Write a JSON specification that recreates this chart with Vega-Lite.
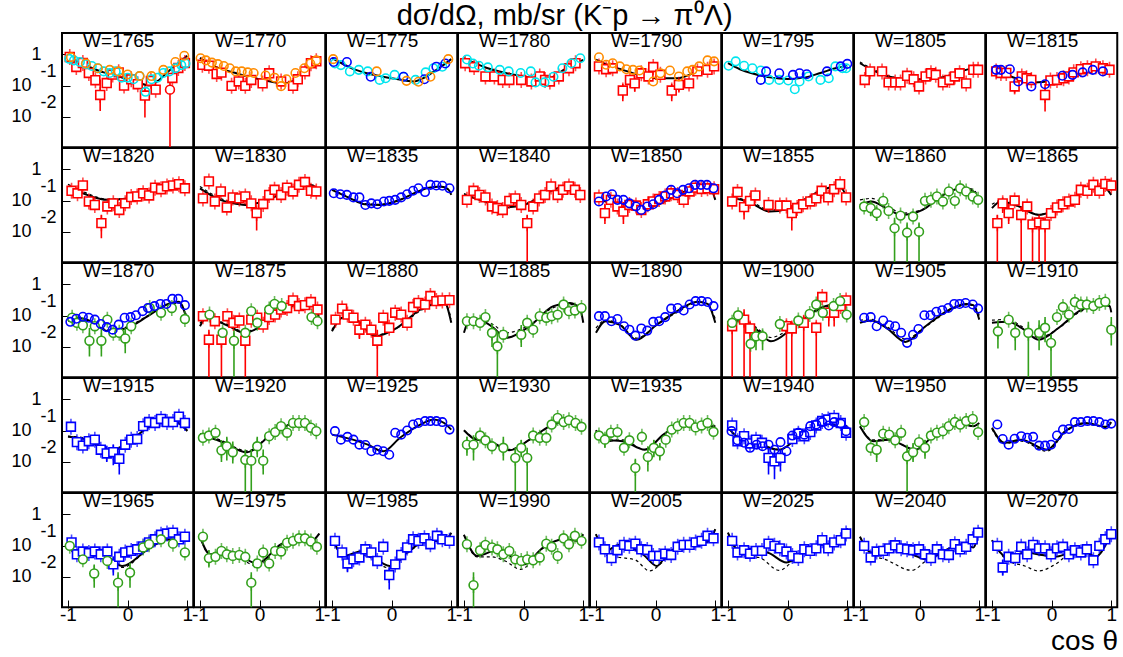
{
"$schema":"https://vega.github.io/schema/vega-lite/v6.json",
"background":"white",
"padding":{"left":10,"top":2,"right":0,"bottom":0},
"bounds":"flush",
"title":{"text":"dσ/dΩ, mb/sr (K⁻p → π⁰Λ)","fontSize":29,"font":"Liberation Sans","fontWeight":"normal","color":"black","anchor":"middle","offset":0},
"data":{"values":[
{"k":"l","s":"s","W":1765,"x":[-1,-0.8,-0.6,-0.4,-0.2,0,0.2,0.36,0.5,0.7,0.85,1],"y":[0.851,0.525,0.363,0.263,0.209,0.155,0.12,0.1,0.138,0.302,0.525,0.891]},
{"k":"p","s":"c","W":1765,"x":[-0.98,-0.9,-0.8,-0.7,-0.6,-0.5,-0.4,-0.3,-0.2,-0.1,0,0.1,0.2,0.3,0.4,0.5,0.6,0.7,0.8,0.9,0.97],"y":[0.708,0.631,0.562,0.479,0.417,0.355,0.282,0.251,0.282,0.178,0.178,0.158,0.2,0.0631,0.158,0.178,0.251,0.282,0.355,0.447,0.501]},
{"k":"p","s":"o","W":1765,"x":[-0.95,-0.7,-0.5,-0.3,-0.15,0,0.2,0.4,0.6,0.8,0.95],"y":[0.794,0.501,0.355,0.316,0.282,0.224,0.2,0.2,0.316,0.562,0.891]},
{"k":"p","s":"r","W":1765,"x":[-0.97,-0.86,-0.75,-0.65,-0.54,-0.46,-0.35,-0.25,-0.15,-0.06,0.06,0.17,0.29,0.39,0.47,0.75,0.85,0.96],"y":[0.813,0.389,0.525,0.251,0.148,0.0501,0.12,0.224,0.263,0.1,0.158,0.11,0.0479,0.141,0.0741,0.174,0.363,0.525]},
{"k":"p","s":"rc","W":1765,"x":[0.71],"y":[0.0741]},
{"k":"e","s":"r","W":1765,"x":[-0.46,0.29],"lo":[0.0155,0.00955],"hi":[0.155,0.0955]},
{"k":"e","s":"rc","W":1765,"x":[0.71],"lo":[0.0005],"hi":[0.174]},
{"k":"l","s":"s","W":1770,"x":[-1,-0.8,-0.6,-0.4,-0.2,0,0.2,0.4,0.5,0.6,0.7,0.8,0.9,1],"y":[0.759,0.447,0.316,0.251,0.191,0.158,0.132,0.117,0.126,0.158,0.24,0.355,0.525,0.794]},
{"k":"p","s":"o","W":1770,"x":[-0.99,-0.9,-0.8,-0.7,-0.6,-0.5,-0.4,-0.3,-0.2,-0.1,0.1,0.25,0.36,0.45,0.6,0.75,0.85,0.95],"y":[0.741,0.631,0.537,0.479,0.417,0.355,0.282,0.282,0.263,0.251,0.209,0.178,0.0955,0.158,0.251,0.355,0.501,0.631]},
{"k":"p","s":"r","W":1770,"x":[-0.96,-0.85,-0.72,-0.64,-0.47,-0.35,-0.24,-0.14,0.05,0.16,0.36,0.56,0.64,0.76,0.86,0.95],"y":[0.457,0.427,0.234,0.257,0.0977,0.135,0.0977,0.151,0.117,0.245,0.135,0.0977,0.158,0.282,0.513,0.589]},
{"k":"l","s":"s","W":1775,"x":[-1,-0.8,-0.6,-0.3,0,0.2,0.37,0.55,0.71,0.85,1],"y":[0.741,0.468,0.316,0.219,0.17,0.148,0.135,0.178,0.282,0.427,0.692]},
{"k":"p","s":"c","W":1775,"x":[-0.95,-0.85,-0.7,-0.55,-0.4,-0.2,-0.1,0.05,0.2,0.4,0.57,0.7,0.85],"y":[0.501,0.447,0.282,0.316,0.282,0.151,0.17,0.219,0.191,0.151,0.263,0.355,0.398]},
{"k":"p","s":"b","W":1775,"x":[-0.97,-0.75,-0.35,0.2,0.55,0.75,0.9],"y":[0.562,0.562,0.191,0.191,0.158,0.398,0.501]},
{"k":"p","s":"o","W":1775,"x":[-0.98,-0.25,0.25,0.45,0.65,0.95],"y":[0.692,0.282,0.141,0.132,0.191,0.692]},
{"k":"l","s":"s","W":1780,"x":[-1,-0.8,-0.6,-0.3,0,0.33,0.5,0.67,0.85,1],"y":[0.741,0.501,0.355,0.251,0.195,0.151,0.191,0.316,0.479,0.661]},
{"k":"p","s":"c","W":1780,"x":[-0.95,-0.85,-0.75,-0.6,-0.4,-0.25,-0.05,0.12,0.2,0.35,0.5,0.65,0.8,0.95],"y":[0.676,0.501,0.427,0.38,0.316,0.282,0.251,0.282,0.126,0.126,0.191,0.355,0.513,0.741]},
{"k":"p","s":"r","W":1780,"x":[-0.98,-0.83,-0.64,-0.49,-0.35,-0.24,-0.04,0.13,0.27,0.36,0.44,0.59,0.76,0.87],"y":[0.513,0.389,0.195,0.195,0.151,0.151,0.151,0.135,0.195,0.151,0.135,0.195,0.355,0.513]},
{"k":"l","s":"s","W":1790,"x":[-1,-0.8,-0.55,-0.3,0,0.36,0.64,0.85,1],"y":[0.661,0.447,0.316,0.224,0.17,0.17,0.251,0.398,0.55]},
{"k":"p","s":"o","W":1790,"x":[-0.95,-0.83,-0.72,-0.6,-0.49,-0.38,-0.27,-0.04,0.08,0.24,0.39,0.53,0.62,0.73,0.87,0.98],"y":[0.794,0.457,0.513,0.407,0.331,0.316,0.302,0.135,0.245,0.302,0.195,0.282,0.316,0.407,0.631,0.589]},
{"k":"p","s":"r","W":1790,"x":[-0.95,-0.83,-0.72,-0.55,-0.43,-0.35,-0.24,-0.12,-0.04,0.08,0.27,0.39,0.56,0.7,0.87,0.98],"y":[0.407,0.331,0.355,0.0692,0.151,0.117,0.245,0.195,0.389,0.219,0.0692,0.105,0.117,0.282,0.316,0.407]},
{"k":"e","s":"r","W":1790,"x":[-0.55,0.27,-0.35,0.39],"lo":[0.0316,0.0316,0.0631,0.0631],"hi":[0.112,0.112,0.178,0.158]},
{"k":"l","s":"s","W":1795,"x":[-1,-0.8,-0.6,-0.3,0,0.3,0.55,0.8,1],"y":[0.513,0.331,0.245,0.182,0.162,0.182,0.251,0.355,0.427]},
{"k":"p","s":"c","W":1795,"x":[-0.99,-0.87,-0.73,-0.59,-0.45,-0.31,-0.14,0.01,0.12,0.2,0.35,0.55,0.69,0.8,0.92,0.98],"y":[0.427,0.589,0.427,0.355,0.302,0.151,0.151,0.145,0.0759,0.135,0.195,0.151,0.17,0.407,0.355,0.355]},
{"k":"p","s":"b","W":1795,"x":[-0.45,-0.36,-0.14,0.09,0.2,0.32,0.66,0.89,1],"y":[0.151,0.282,0.245,0.219,0.245,0.229,0.282,0.407,0.49]},
{"k":"l","s":"s","W":1805,"x":[-1,-0.8,-0.52,-0.2,0.1,0.44,0.7,0.85,1],"y":[0.513,0.316,0.195,0.158,0.158,0.195,0.282,0.339,0.339]},
{"k":"l","s":"d","W":1805,"x":[-1,-0.8,-0.52,-0.2,0.1,0.44,0.7,0.85,1],"y":[0.562,0.347,0.204,0.158,0.155,0.191,0.275,0.331,0.339]},
{"k":"p","s":"r","W":1805,"x":[-0.92,-0.83,-0.63,-0.52,-0.41,-0.32,-0.21,-0.1,-0.01,0.1,0.19,0.27,0.39,0.5,0.59,0.67,0.78,0.9,0.98],"y":[0.151,0.282,0.282,0.126,0.126,0.126,0.204,0.158,0.0933,0.195,0.245,0.219,0.126,0.151,0.195,0.245,0.117,0.316,0.316]},
{"k":"l","s":"s","W":1815,"x":[-1,-0.8,-0.6,-0.3,0,0.3,0.52,0.8,1],"y":[0.331,0.24,0.17,0.126,0.141,0.224,0.316,0.389,0.316]},
{"k":"p","s":"b","W":1815,"x":[-0.93,-0.85,-0.7,-0.56,-0.34,-0.11,0.18,0.35,0.52,0.69,0.86],"y":[0.316,0.316,0.331,0.135,0.0933,0.11,0.204,0.219,0.263,0.316,0.282]},
{"k":"p","s":"r","W":1815,"x":[-0.93,-0.85,-0.76,-0.62,-0.5,-0.42,-0.34,-0.11,-0.02,0.09,0.2,0.29,0.37,0.49,0.6,0.74,0.86,0.97],"y":[0.282,0.251,0.251,0.0933,0.195,0.17,0.151,0.0501,0.145,0.151,0.17,0.195,0.263,0.331,0.355,0.407,0.355,0.316]},
{"k":"e","s":"r","W":1815,"x":[-0.11,-0.62],"lo":[0.0148,0.0562],"hi":[0.112,0.141]},
{"k":"l","s":"s","W":1820,"x":[-1,-0.68,-0.34,0,0.34,0.6,0.8,0.9,1],"y":[0.282,0.151,0.105,0.117,0.195,0.275,0.324,0.316,0.245]},
{"k":"l","s":"d","W":1820,"x":[-1,-0.68,-0.34,0,0.34,0.6,0.8,0.9,1],"y":[0.331,0.17,0.11,0.117,0.191,0.269,0.316,0.316,0.263]},
{"k":"p","s":"r","W":1820,"x":[-0.94,-0.84,-0.75,-0.65,-0.55,-0.44,-0.34,-0.24,-0.14,-0.04,0.06,0.16,0.26,0.36,0.46,0.56,0.66,0.76,0.86,0.96],"y":[0.204,0.17,0.302,0.0933,0.0724,0.0191,0.0646,0.0813,0.0501,0.0813,0.129,0.135,0.17,0.145,0.257,0.229,0.282,0.302,0.331,0.245]},
{"k":"e","s":"r","W":1820,"x":[-0.44],"lo":[0.0063],"hi":[0.0355]},
{"k":"l","s":"s","W":1830,"x":[-1,-0.66,-0.4,-0.2,0.19,0.45,0.64,0.84,0.95,1],"y":[0.245,0.105,0.0794,0.0724,0.117,0.2,0.282,0.316,0.251,0.17]},
{"k":"l","s":"d","W":1830,"x":[-1,-0.66,-0.4,-0.2,0.19,0.45,0.64,0.84,1],"y":[0.282,0.117,0.0851,0.0759,0.117,0.2,0.282,0.316,0.191]},
{"k":"p","s":"r","W":1830,"x":[-0.95,-0.85,-0.75,-0.65,-0.55,-0.45,-0.34,-0.24,-0.14,-0.05,0.06,0.16,0.25,0.36,0.46,0.56,0.66,0.76,0.86,0.95],"y":[0.117,0.407,0.0933,0.195,0.0603,0.126,0.117,0.135,0.0813,0.0398,0.0776,0.151,0.219,0.151,0.257,0.195,0.316,0.389,0.204,0.195]},
{"k":"e","s":"r","W":1830,"x":[-0.05],"lo":[0.0112],"hi":[0.0631]},
{"k":"l","s":"s","W":1835,"x":[-1,-0.7,-0.45,-0.2,0.14,0.4,0.6,0.82,0.95,1],"y":[0.219,0.12,0.0759,0.0724,0.105,0.178,0.251,0.282,0.224,0.151]},
{"k":"l","s":"d","W":1835,"x":[-1,-0.7,-0.45,-0.2,0.14,0.4,0.6,0.82,0.95,1],"y":[0.229,0.126,0.0794,0.0759,0.107,0.178,0.251,0.275,0.234,0.178]},
{"k":"p","s":"b","W":1835,"x":[-0.97,-0.86,-0.75,-0.64,-0.54,-0.44,-0.34,-0.24,-0.13,-0.04,0.06,0.16,0.26,0.36,0.45,0.56,0.65,0.75,0.85,0.97],"y":[0.17,0.158,0.151,0.126,0.126,0.0724,0.0813,0.0759,0.0933,0.0977,0.105,0.126,0.158,0.204,0.245,0.186,0.316,0.302,0.295,0.245]},
{"k":"l","s":"s","W":1840,"x":[-1,-0.7,-0.35,0,0.33,0.55,0.73,0.9,1],"y":[0.151,0.1,0.0603,0.0724,0.151,0.24,0.302,0.245,0.117]},
{"k":"l","s":"d","W":1840,"x":[-1,-0.7,-0.35,0,0.33,0.55,0.73,0.9,1],"y":[0.166,0.105,0.0631,0.0759,0.151,0.24,0.295,0.251,0.141]},
{"k":"p","s":"r","W":1840,"x":[-0.95,-0.84,-0.74,-0.64,-0.53,-0.44,-0.35,-0.24,-0.14,-0.04,0.06,0.16,0.26,0.36,0.46,0.57,0.66,0.76,0.86,0.95],"y":[0.105,0.204,0.151,0.126,0.0646,0.0575,0.0501,0.0977,0.117,0.0724,0.0191,0.0646,0.117,0.151,0.282,0.151,0.219,0.282,0.219,0.151]},
{"k":"e","s":"r","W":1840,"x":[0.06],"lo":[0.0005],"hi":[0.0355]},
{"k":"l","s":"s","W":1850,"x":[-1,-0.66,-0.3,0.02,0.36,0.6,0.76,0.9,1],"y":[0.117,0.0724,0.0501,0.0724,0.151,0.24,0.282,0.282,0.105]},
{"k":"l","s":"d","W":1850,"x":[-1,-0.66,-0.3,0.02,0.36,0.6,0.76,0.9,1],"y":[0.126,0.0759,0.0525,0.0708,0.145,0.229,0.275,0.269,0.141]},
{"k":"p","s":"b","W":1850,"x":[-0.95,-0.83,-0.73,-0.64,-0.54,-0.44,-0.33,-0.24,-0.14,-0.04,0.06,0.16,0.26,0.36,0.46,0.56,0.66,0.76,0.86,0.97],"y":[0.0933,0.135,0.158,0.105,0.105,0.0813,0.0646,0.0501,0.0646,0.0759,0.105,0.145,0.219,0.17,0.219,0.245,0.316,0.316,0.316,0.245]},
{"k":"p","s":"r","W":1850,"x":[-0.95,-0.85,-0.75,-0.64,-0.54,-0.44,-0.33,-0.24,-0.13,-0.04,0.06,0.16,0.26,0.37,0.47,0.57,0.67,0.77,0.87,0.98],"y":[0.126,0.0398,0.105,0.0646,0.0447,0.0724,0.0692,0.0501,0.0759,0.0933,0.112,0.135,0.17,0.151,0.105,0.195,0.257,0.234,0.245,0.229]},
{"k":"e","s":"r","W":1850,"x":[-0.85,-0.54],"lo":[0.0178,0.0178],"hi":[0.0794,0.0891]},
{"k":"l","s":"s","W":1855,"x":[-1,-0.85,-0.6,-0.3,0,0.3,0.6,0.8,0.9,1],"y":[0.0871,0.112,0.0794,0.0447,0.055,0.112,0.224,0.282,0.263,0.0933]},
{"k":"l","s":"d","W":1855,"x":[-1,-0.85,-0.6,-0.3,0,0.3,0.6,0.8,0.9,1],"y":[0.112,0.117,0.0891,0.0501,0.0603,0.112,0.214,0.263,0.24,0.126]},
{"k":"p","s":"r","W":1855,"x":[-0.93,-0.84,-0.73,-0.63,-0.54,-0.32,-0.13,-0.02,0.07,0.16,0.26,0.38,0.48,0.57,0.68,0.78,0.88,0.98],"y":[0.0933,0.186,0.0617,0.0977,0.145,0.0724,0.0692,0.0692,0.0398,0.0575,0.0759,0.0933,0.117,0.204,0.126,0.229,0.331,0.126]},
{"k":"e","s":"r","W":1855,"x":[0.07,-0.73],"lo":[0.0112,0.0251],"hi":[0.0708,0.112]},
{"k":"l","s":"s","W":1860,"x":[-1,-0.81,-0.55,-0.3,0.05,0.3,0.5,0.73,0.9,1],"y":[0.0724,0.0933,0.0562,0.0347,0.0501,0.112,0.195,0.245,0.195,0.0813]},
{"k":"l","s":"d","W":1860,"x":[-1,-0.81,-0.55,-0.3,0.05,0.3,0.5,0.73,0.9,1],"y":[0.105,0.117,0.0708,0.0398,0.0525,0.112,0.191,0.251,0.224,0.112]},
{"k":"p","s":"g","W":1860,"x":[-0.93,-0.82,-0.72,-0.61,-0.52,-0.42,-0.32,-0.21,-0.11,-0.01,0.09,0.19,0.29,0.39,0.49,0.59,0.68,0.78,0.89,0.98],"y":[0.0646,0.0575,0.0398,0.0977,0.0468,0.0132,0.0331,0.00955,0.0309,0.0102,0.0977,0.105,0.135,0.0933,0.195,0.0977,0.245,0.195,0.135,0.105]},
{"k":"e","s":"g","W":1860,"x":[-0.42,-0.21,-0.01,-0.72,-0.82],"lo":[0.0005,0.0005,0.0005,0.0224,0.0316],"hi":[0.0282,0.02,0.02,0.0631,0.0891]},
{"k":"l","s":"s","W":1865,"x":[-1,-0.85,-0.6,-0.22,0.23,0.45,0.63,0.86,1],"y":[0.0575,0.0933,0.0708,0.0347,0.0813,0.158,0.245,0.282,0.151]},
{"k":"l","s":"d","W":1865,"x":[-1,-0.85,-0.6,-0.22,0.23,0.45,0.63,0.86,1],"y":[0.0759,0.1,0.0759,0.0363,0.0832,0.158,0.24,0.275,0.178]},
{"k":"p","s":"r","W":1865,"x":[-0.91,-0.82,-0.72,-0.62,-0.51,-0.41,-0.32,-0.21,-0.11,-0.01,0.09,0.19,0.29,0.39,0.49,0.6,0.7,0.8,0.9,1],"y":[0.0191,0.0813,0.0398,0.1,0.0347,0.0646,0.0174,0.02,0.0174,0.0398,0.0603,0.0759,0.0933,0.105,0.219,0.204,0.316,0.204,0.339,0.302]},
{"k":"e","s":"r","W":1865,"x":[-0.91,-0.51,-0.32,-0.21,-0.11,-0.72,-0.82],"lo":[0.0005,0.0005,0.0005,0.0005,0.0005,0.0178,0.0398],"hi":[0.0355,0.0631,0.0282,0.0316,0.0282,0.0794,0.126]},
{"k":"l","s":"s","W":1870,"x":[-1,-0.85,-0.68,-0.31,0,0.34,0.68,0.86,1],"y":[0.0661,0.0851,0.0741,0.0316,0.0407,0.0955,0.234,0.275,0.0661]},
{"k":"l","s":"d","W":1870,"x":[-1,-0.85,-0.68,-0.31,0,0.34,0.68,0.86,1],"y":[0.0708,0.0832,0.0708,0.0355,0.0447,0.1,0.224,0.251,0.0891]},
{"k":"p","s":"b","W":1870,"x":[-0.96,-0.86,-0.75,-0.65,-0.55,-0.45,-0.35,-0.25,-0.15,-0.05,0.05,0.14,0.25,0.34,0.45,0.55,0.65,0.75,0.85,0.96],"y":[0.0631,0.0794,0.0912,0.0851,0.0741,0.0537,0.0427,0.0355,0.0513,0.0851,0.0891,0.102,0.138,0.174,0.2,0.234,0.234,0.339,0.339,0.214]},
{"k":"p","s":"g","W":1870,"x":[-0.93,-0.85,-0.75,-0.64,-0.55,-0.44,-0.34,-0.24,-0.14,-0.04,0.06,0.37,0.56,0.74,0.96],"y":[0.0851,0.0589,0.049,0.0158,0.0457,0.0158,0.0741,0.0282,0.0282,0.0186,0.0457,0.174,0.123,0.174,0.0776]},
{"k":"e","s":"g","W":1870,"x":[-0.64,-0.44,-0.04],"lo":[0.005,0.005,0.0063],"hi":[0.0398,0.0398,0.0398]},
{"k":"l","s":"s","W":1875,"x":[-1,-0.89,-0.72,-0.5,-0.27,0.07,0.3,0.53,0.81,0.92,1],"y":[0.0457,0.0851,0.0661,0.0447,0.0282,0.0513,0.112,0.2,0.251,0.2,0.0741]},
{"k":"l","s":"d","W":1875,"x":[-1,-0.89,-0.72,-0.5,-0.27,0.07,0.3,0.53,0.81,0.92,1],"y":[0.0562,0.0891,0.0708,0.0479,0.0316,0.0479,0.1,0.191,0.24,0.2,0.1]},
{"k":"p","s":"r","W":1875,"x":[-0.95,-0.85,-0.75,-0.64,-0.54,-0.44,-0.34,-0.24,-0.14,-0.04,0.06,0.16,0.26,0.36,0.46,0.56,0.66,0.76,0.86,0.97],"y":[0.0955,0.017,0.0661,0.017,0.0955,0.0589,0.0692,0.0158,0.0741,0.0851,0.0513,0.0891,0.107,0.155,0.174,0.302,0.2,0.214,0.269,0.155]},
{"k":"p","s":"g","W":1875,"x":[-0.84,-0.62,-0.43,-0.24,-0.14,-0.04,0.16,0.25,0.37,0.87,0.97],"y":[0.107,0.0282,0.0158,0.0282,0.138,0.0589,0.155,0.234,0.2,0.0891,0.0661]},
{"k":"e","s":"r","W":1875,"x":[-0.85,-0.64,-0.24],"lo":[0.0005,0.0005,0.0005],"hi":[0.0355,0.0355,0.0316]},
{"k":"e","s":"g","W":1875,"x":[-0.43],"lo":[0.0005],"hi":[0.0355]},
{"k":"l","s":"s","W":1880,"x":[-1,-0.82,-0.6,-0.28,0.09,0.48,0.77,0.88,1],"y":[0.0316,0.0851,0.0741,0.0219,0.0407,0.155,0.251,0.275,0.0589]},
{"k":"l","s":"d","W":1880,"x":[-1,-0.82,-0.6,-0.28,0.09,0.48,0.77,0.88,1],"y":[0.0355,0.0851,0.0708,0.024,0.0398,0.141,0.24,0.263,0.0794]},
{"k":"p","s":"r","W":1880,"x":[-0.94,-0.83,-0.74,-0.64,-0.54,-0.44,-0.34,-0.24,-0.14,-0.04,0.06,0.16,0.26,0.36,0.45,0.56,0.65,0.75,0.85,0.97],"y":[0.0741,0.166,0.107,0.0851,0.0355,0.0513,0.0355,0.0158,0.0851,0.0407,0.123,0.107,0.0589,0.186,0.251,0.224,0.417,0.288,0.302,0.309]},
{"k":"e","s":"r","W":1880,"x":[-0.24,-0.54],"lo":[0.0005,0.0178],"hi":[0.0355,0.0708]},
{"k":"l","s":"s","W":1885,"x":[-1,-0.92,-0.75,-0.5,-0.3,0.1,0.5,0.78,0.95,1],"y":[0.0282,0.0661,0.0741,0.0398,0.0195,0.0457,0.2,0.251,0.155,0.0589]},
{"k":"l","s":"d","W":1885,"x":[-1,-0.92,-0.75,-0.5,-0.3,0.1,0.5,0.78,0.95,1],"y":[0.0562,0.0759,0.0851,0.0501,0.0282,0.0501,0.178,0.224,0.2,0.126]},
{"k":"p","s":"g","W":1885,"x":[-0.95,-0.84,-0.73,-0.64,-0.53,-0.44,-0.34,-0.04,0.06,0.16,0.27,0.38,0.47,0.57,0.67,0.76,0.86,0.97],"y":[0.0661,0.0661,0.0589,0.0891,0.0282,0.0105,0.0245,0.0245,0.0589,0.0355,0.0955,0.0851,0.0955,0.107,0.224,0.138,0.145,0.174]},
{"k":"e","s":"g","W":1885,"x":[-0.44,-0.53,-0.04],"lo":[0.0005,0.01,0.01],"hi":[0.0316,0.0562,0.0501]},
{"k":"l","s":"s","W":1890,"x":[-1,-0.84,-0.6,-0.32,0.02,0.36,0.7,0.87,1],"y":[0.0282,0.0661,0.0501,0.017,0.0513,0.138,0.275,0.234,0.0589]},
{"k":"l","s":"d","W":1890,"x":[-1,-0.84,-0.6,-0.32,0.02,0.36,0.7,0.87,1],"y":[0.0398,0.0708,0.0525,0.0191,0.0501,0.126,0.251,0.224,0.0794]},
{"k":"p","s":"b","W":1890,"x":[-0.95,-0.85,-0.74,-0.64,-0.53,-0.44,-0.34,-0.24,-0.14,-0.04,0.06,0.16,0.26,0.37,0.47,0.57,0.67,0.77,0.87,0.97],"y":[0.0955,0.0955,0.0661,0.0776,0.0457,0.0355,0.0229,0.0389,0.0331,0.0631,0.0661,0.0891,0.166,0.174,0.145,0.224,0.288,0.288,0.269,0.2]},
{"k":"l","s":"s","W":1900,"x":[-1,-0.82,-0.55,-0.28,0.09,0.55,0.77,0.9,1],"y":[0.0355,0.0692,0.0398,0.0151,0.0407,0.174,0.224,0.191,0.0741]},
{"k":"l","s":"d","W":1900,"x":[-1,-0.82,-0.55,-0.28,0.09,0.55,0.77,0.9,1],"y":[0.0447,0.0741,0.0447,0.02,0.0447,0.158,0.209,0.191,0.0891]},
{"k":"p","s":"r","W":1900,"x":[-0.93,-0.73,-0.63,-0.02,0.07,0.27,0.48,0.58,0.69,0.78,0.89,0.98],"y":[0.0457,0.0741,0.0389,0.0457,0.0389,0.0589,0.0407,0.389,0.123,0.123,0.2,0.302]},
{"k":"e","s":"r","W":1900,"x":[-0.93,-0.73,-0.63,-0.02,0.07,0.27,0.48,0.69,0.78,0.58],"lo":[0.0005,0.0005,0.0005,0.0005,0.0005,0.0005,0.0005,0.0447,0.0447,0.316],"hi":[0.0631,0.158,0.0631,0.0708,0.0631,0.1,0.0631,0.224,0.224,0.501]},
{"k":"p","s":"g","W":1900,"x":[-0.93,-0.83,-0.62,-0.53,-0.42,-0.13,0.18,0.37,0.48,0.59,0.77,0.88,0.99],"y":[0.0589,0.102,0.0126,0.0219,0.0219,0.0537,0.0692,0.112,0.224,0.123,0.2,0.288,0.107]},
{"k":"e","s":"g","W":1900,"x":[-0.53,-0.42,-0.62],"lo":[0.0079,0.0079,0.01],"hi":[0.0398,0.0355,0.0178]},
{"k":"l","s":"s","W":1905,"x":[-1,-0.81,-0.55,-0.24,0.1,0.5,0.78,0.9,1],"y":[0.0589,0.0692,0.0398,0.0145,0.0457,0.155,0.234,0.214,0.0741]},
{"k":"l","s":"d","W":1905,"x":[-1,-0.81,-0.55,-0.24,0.1,0.5,0.78,0.9,1],"y":[0.0708,0.0759,0.0447,0.0178,0.0447,0.141,0.219,0.209,0.1]},
{"k":"p","s":"b","W":1905,"x":[-0.93,-0.82,-0.72,-0.61,-0.51,-0.41,-0.31,-0.21,-0.11,-0.02,0.08,0.18,0.28,0.38,0.48,0.58,0.67,0.77,0.89,0.98],"y":[0.0851,0.0891,0.0457,0.0692,0.049,0.0457,0.0282,0.0135,0.0245,0.0372,0.102,0.102,0.132,0.148,0.174,0.234,0.234,0.251,0.224,0.166]},
{"k":"l","s":"s","W":1910,"x":[-1,-0.73,-0.5,-0.22,0.12,0.46,0.8,0.97,1],"y":[0.0589,0.0631,0.0398,0.017,0.0407,0.138,0.224,0.2,0.126]},
{"k":"l","s":"d","W":1910,"x":[-1,-0.73,-0.5,-0.22,0.12,0.46,0.8,0.97,1],"y":[0.0708,0.0759,0.0447,0.02,0.0398,0.126,0.209,0.2,0.141]},
{"k":"p","s":"g","W":1910,"x":[-0.9,-0.72,-0.61,-0.39,-0.21,-0.11,-0.01,0.09,0.19,0.29,0.39,0.49,0.59,0.7,0.8,0.9,1],"y":[0.0316,0.0741,0.0282,0.0282,0.0282,0.0407,0.0135,0.0891,0.186,0.107,0.269,0.224,0.224,0.2,0.251,0.275,0.0355]},
{"k":"e","s":"g","W":1910,"x":[-0.9,-0.61,-0.39,-0.21,-0.11,-0.01,1],"lo":[0.0089,0.0079,0.0005,0.0079,0.0141,0.0005,0.0112],"hi":[0.0708,0.0631,0.0631,0.0708,0.0891,0.0251,0.0891]},
{"k":"l","s":"s","W":1915,"x":[-1,-0.68,-0.31,0,0.34,0.63,0.85,1],"y":[0.0631,0.0513,0.0204,0.0407,0.123,0.214,0.174,0.0955]},
{"k":"l","s":"d","W":1915,"x":[-1,-0.68,-0.31,0,0.34,0.63,0.85,1],"y":[0.0661,0.0562,0.024,0.0417,0.12,0.209,0.178,0.105]},
{"k":"p","s":"bs","W":1915,"x":[-0.95,-0.85,-0.75,-0.65,-0.55,-0.45,-0.35,-0.24,-0.14,-0.04,0.06,0.16,0.26,0.36,0.46,0.56,0.66,0.76,0.86,0.96],"y":[0.132,0.0427,0.0331,0.0457,0.0513,0.0245,0.0186,0.0204,0.0126,0.0355,0.0513,0.0537,0.138,0.186,0.174,0.234,0.186,0.186,0.275,0.174]},
{"k":"e","s":"bs","W":1915,"x":[-0.14,-0.24,-0.35],"lo":[0.004,0.0079,0.01],"hi":[0.0282,0.0355,0.0316]},
{"k":"l","s":"s","W":1920,"x":[-1,-0.66,-0.21,0.19,0.45,0.64,0.87,1],"y":[0.0741,0.0457,0.0204,0.0741,0.141,0.2,0.138,0.102]},
{"k":"l","s":"d","W":1920,"x":[-1,-0.66,-0.21,0.19,0.45,0.64,0.87,1],"y":[0.0794,0.0501,0.0224,0.0759,0.141,0.2,0.141,0.107]},
{"k":"p","s":"g","W":1920,"x":[-0.95,-0.85,-0.74,-0.64,-0.55,-0.45,-0.24,-0.14,-0.04,0.06,0.16,0.26,0.36,0.46,0.56,0.66,0.76,0.86,0.95],"y":[0.0589,0.0692,0.0851,0.0234,0.0316,0.0204,0.0117,0.011,0.0316,0.011,0.0661,0.0891,0.138,0.0851,0.174,0.174,0.174,0.123,0.0955]},
{"k":"e","s":"g","W":1920,"x":[-0.24,-0.14,0.06,-0.64,-0.55,-0.45,-0.04],"lo":[0.0005,0.0005,0.004,0.01,0.0112,0.0089,0.0141],"hi":[0.0251,0.0251,0.0251,0.0501,0.0631,0.0447,0.0631]},
{"k":"l","s":"s","W":1925,"x":[-1,-0.65,-0.4,-0.14,0.14,0.48,0.71,0.88,1],"y":[0.0741,0.0513,0.0355,0.0219,0.0589,0.155,0.224,0.174,0.107]},
{"k":"p","s":"b","W":1925,"x":[-0.95,-0.85,-0.74,-0.64,-0.54,-0.44,-0.34,-0.24,-0.14,-0.04,0.06,0.16,0.26,0.36,0.45,0.56,0.65,0.75,0.85,0.97],"y":[0.0955,0.0513,0.0631,0.0513,0.0355,0.0347,0.0219,0.0245,0.0219,0.017,0.0851,0.0741,0.1,0.155,0.174,0.2,0.2,0.2,0.186,0.107]},
{"k":"l","s":"s","W":1930,"x":[-1,-0.8,-0.58,-0.24,0.1,0.44,0.73,0.95,1],"y":[0.102,0.0513,0.0457,0.0234,0.0513,0.138,0.2,0.138,0.138]},
{"k":"l","s":"d","W":1930,"x":[-1,-0.8,-0.58,-0.24,0.1,0.44,0.73,0.95,1],"y":[0.1,0.0562,0.0479,0.0251,0.0501,0.132,0.191,0.141,0.141]},
{"k":"p","s":"g","W":1930,"x":[-0.95,-0.84,-0.73,-0.64,-0.53,-0.34,-0.14,-0.04,0.06,0.16,0.27,0.38,0.47,0.57,0.67,0.76,0.87,0.97],"y":[0.0355,0.0355,0.0692,0.049,0.0316,0.0282,0.0135,0.0282,0.0135,0.0692,0.0589,0.0589,0.155,0.251,0.186,0.214,0.174,0.132]},
{"k":"e","s":"g","W":1930,"x":[-0.84,-0.34,-0.14,0.06,-0.04,-0.95],"lo":[0.0112,0.0112,0.0005,0.0005,0.0141,0.0158],"hi":[0.0708,0.0631,0.0282,0.0282,0.0501,0.0631]},
{"k":"l","s":"s","W":1935,"x":[-1,-0.84,-0.7,-0.55,-0.18,0.13,0.47,0.76,0.93,1],"y":[0.102,0.0457,0.0479,0.0457,0.0245,0.0741,0.174,0.155,0.138,0.138]},
{"k":"l","s":"d","W":1935,"x":[-1,-0.84,-0.7,-0.55,-0.18,0.13,0.47,0.76,0.93,1],"y":[0.1,0.0501,0.0501,0.0501,0.0251,0.0741,0.166,0.151,0.138,0.138]},
{"k":"p","s":"g","W":1935,"x":[-0.95,-0.85,-0.75,-0.64,-0.53,-0.44,-0.34,-0.23,-0.13,-0.03,0.07,0.17,0.27,0.37,0.47,0.57,0.67,0.77,0.87,0.97],"y":[0.0692,0.0513,0.0851,0.0891,0.0282,0.049,0.00646,0.0631,0.0145,0.0282,0.0219,0.0513,0.107,0.138,0.174,0.174,0.126,0.145,0.174,0.0912]},
{"k":"e","s":"g","W":1935,"x":[-0.34,-0.13,-0.85,-0.03,0.07],"lo":[0.0005,0.005,0.0282,0.0141,0.0112],"hi":[0.0126,0.0316,0.0794,0.0501,0.0398]},
{"k":"l","s":"s","W":1940,"x":[-1,-0.82,-0.59,-0.14,0.2,0.6,0.89,1],"y":[0.123,0.0589,0.0457,0.0245,0.0661,0.174,0.138,0.138]},
{"k":"l","s":"d","W":1940,"x":[-1,-0.82,-0.59,-0.14,0.2,0.6,0.89,1],"y":[0.12,0.0562,0.0447,0.0251,0.0661,0.17,0.138,0.138]},
{"k":"p","s":"bs","W":1940,"x":[-0.93,-0.84,-0.73,-0.63,-0.53,-0.43,-0.32,-0.22,-0.12,0.08,0.18,0.28,0.38,0.48,0.58,0.68,0.78,0.89,0.98],"y":[0.145,0.0457,0.0661,0.0389,0.0513,0.0407,0.0135,0.0105,0.0135,0.0537,0.0794,0.0661,0.0891,0.145,0.2,0.224,0.251,0.174,0.0851]},
{"k":"e","s":"bs","W":1940,"x":[-0.32,-0.22,-0.12],"lo":[0.004,0.0028,0.005],"hi":[0.0282,0.0251,0.0251]},
{"k":"p","s":"b","W":1940,"x":[-0.94,-0.84,-0.73,-0.63,-0.52,-0.42,-0.32,-0.22,-0.12,-0.02,0.08,0.18,0.28,0.38,0.48,0.58,0.69,0.78,0.89,0.98],"y":[0.0955,0.049,0.0407,0.0282,0.0355,0.0316,0.0355,0.0245,0.0427,0.0219,0.0692,0.0851,0.0741,0.138,0.155,0.186,0.145,0.186,0.166,0.0955]},
{"k":"l","s":"s","W":1950,"x":[-1,-0.78,-0.52,-0.07,0.28,0.62,0.9,1],"y":[0.138,0.0457,0.0513,0.0245,0.0851,0.174,0.138,0.174]},
{"k":"l","s":"d","W":1950,"x":[-1,-0.78,-0.52,-0.07,0.28,0.62,0.9,1],"y":[0.132,0.0501,0.0501,0.0251,0.0832,0.166,0.138,0.166]},
{"k":"p","s":"g","W":1950,"x":[-0.93,-0.82,-0.72,-0.61,-0.51,-0.41,-0.31,-0.21,-0.11,-0.01,0.09,0.19,0.29,0.39,0.49,0.59,0.68,0.78,0.89,0.98],"y":[0.186,0.0282,0.0245,0.0794,0.0741,0.049,0.0851,0.0151,0.0204,0.0427,0.0282,0.0692,0.0851,0.0955,0.138,0.186,0.155,0.2,0.234,0.0891]},
{"k":"e","s":"g","W":1950,"x":[-0.21,-0.72,-0.11,0.09],"lo":[0.0005,0.01,0.01,0.0126],"hi":[0.0355,0.0501,0.0398,0.0501]},
{"k":"l","s":"s","W":1955,"x":[-1,-0.79,-0.51,-0.08,0.23,0.57,0.91,1],"y":[0.123,0.0407,0.0513,0.0245,0.0955,0.174,0.132,0.186]},
{"k":"l","s":"d","W":1955,"x":[-1,-0.79,-0.51,-0.08,0.23,0.57,0.91,1],"y":[0.112,0.038,0.0457,0.0219,0.0891,0.166,0.126,0.178]},
{"k":"p","s":"b","W":1955,"x":[-0.91,-0.82,-0.72,-0.62,-0.51,-0.41,-0.31,-0.21,-0.11,-0.01,0.09,0.19,0.29,0.39,0.49,0.6,0.7,0.8,0.9,1],"y":[0.155,0.0537,0.0355,0.055,0.0661,0.0589,0.0631,0.0331,0.0331,0.0355,0.0692,0.107,0.112,0.186,0.186,0.2,0.2,0.186,0.155,0.166]},
{"k":"l","s":"s","W":1965,"x":[-1,-0.88,-0.57,-0.3,-0.09,0.34,0.68,0.85,1],"y":[0.158,0.0525,0.0603,0.0398,0.0224,0.0759,0.158,0.141,0.191]},
{"k":"l","s":"d","W":1965,"x":[-1,-0.88,-0.57,-0.3,-0.09,0.34,0.68,0.85,1],"y":[0.151,0.0525,0.0562,0.0331,0.02,0.0741,0.151,0.138,0.182]},
{"k":"p","s":"bs","W":1965,"x":[-0.94,-0.85,-0.75,-0.65,-0.55,-0.45,-0.34,-0.24,-0.14,-0.04,0.06,0.16,0.26,0.36,0.46,0.56,0.66,0.76,0.86,0.96],"y":[0.126,0.0525,0.0646,0.0575,0.0646,0.0525,0.0646,0.0251,0.0437,0.0603,0.0676,0.0759,0.0933,0.126,0.158,0.219,0.24,0.257,0.158,0.191]},
{"k":"e","s":"bs","W":1965,"x":[-0.24],"lo":[0.0112],"hi":[0.0447]},
{"k":"p","s":"g","W":1965,"x":[-0.97,-0.75,-0.56,-0.34,-0.16,0.04,0.26,0.36,0.56,0.76,0.96],"y":[0.0977,0.0363,0.0129,0.0324,0.0066,0.0138,0.0871,0.11,0.158,0.115,0.0603]},
{"k":"e","s":"g","W":1965,"x":[-0.56,-0.16,0.04],"lo":[0.0045,0.0005,0.0045],"hi":[0.0251,0.0141,0.0282]},
{"k":"l","s":"s","W":1975,"x":[-1,-0.83,-0.49,-0.04,0.36,0.64,0.87,1],"y":[0.191,0.0525,0.0646,0.0269,0.11,0.158,0.141,0.24]},
{"k":"l","s":"d","W":1975,"x":[-1,-0.83,-0.49,-0.04,0.36,0.64,0.87,1],"y":[0.191,0.0501,0.0501,0.0224,0.105,0.158,0.141,0.24]},
{"k":"p","s":"g","W":1975,"x":[-0.95,-0.85,-0.74,-0.64,-0.55,-0.45,-0.34,-0.24,-0.14,-0.04,0.06,0.16,0.26,0.36,0.46,0.56,0.66,0.76,0.86,0.96],"y":[0.191,0.0398,0.0437,0.0676,0.0525,0.0468,0.0501,0.0437,0.0066,0.0269,0.0603,0.0269,0.0676,0.0646,0.123,0.141,0.17,0.17,0.135,0.0912]},
{"k":"e","s":"g","W":1975,"x":[-0.14,-0.85],"lo":[0.0005,0.02],"hi":[0.0141,0.0708]},
{"k":"l","s":"s","W":1985,"x":[-1,-0.8,-0.49,-0.03,0.26,0.6,0.88,1],"y":[0.182,0.0468,0.0676,0.0224,0.0603,0.141,0.141,0.257]},
{"k":"l","s":"d","W":1985,"x":[-1,-0.8,-0.49,-0.03,0.26,0.6,0.88,1],"y":[0.182,0.0447,0.0501,0.0191,0.0562,0.135,0.138,0.251]},
{"k":"p","s":"bs","W":1985,"x":[-0.95,-0.83,-0.74,-0.64,-0.54,-0.44,-0.34,-0.24,-0.14,-0.04,0.06,0.16,0.26,0.36,0.45,0.55,0.65,0.76,0.85,0.97],"y":[0.141,0.0603,0.0269,0.0363,0.0417,0.0759,0.0603,0.0324,0.0912,0.0115,0.0251,0.0501,0.0871,0.158,0.141,0.17,0.11,0.204,0.158,0.141]},
{"k":"e","s":"bs","W":1985,"x":[-0.74,-0.04],"lo":[0.0141,0.004],"hi":[0.0447,0.02]},
{"k":"l","s":"s","W":1990,"x":[-1,-0.78,-0.41,0,0.33,0.67,0.9,1],"y":[0.219,0.0468,0.0759,0.0251,0.0871,0.158,0.141,0.229]},
{"k":"l","s":"d","W":1990,"x":[-1,-0.78,-0.55,-0.3,-0.05,0.33,0.67,0.9,1],"y":[0.219,0.0437,0.0437,0.0316,0.0174,0.0832,0.158,0.141,0.229]},
{"k":"p","s":"g","W":1990,"x":[-0.95,-0.84,-0.73,-0.64,-0.53,-0.44,-0.34,-0.24,-0.14,-0.04,0.06,0.16,0.27,0.38,0.47,0.57,0.67,0.76,0.86,0.97],"y":[0.11,0.0055,0.0708,0.105,0.0871,0.0759,0.0525,0.0676,0.0363,0.0324,0.0363,0.0339,0.0417,0.115,0.0912,0.0468,0.17,0.11,0.204,0.141]},
{"k":"e","s":"g","W":1990,"x":[-0.84],"lo":[0.0005],"hi":[0.0141]},
{"k":"l","s":"s","W":2005,"x":[-1,-0.84,-0.61,-0.38,-0.2,0.02,0.2,0.36,0.55,0.76,0.9,1],"y":[0.229,0.0676,0.105,0.0794,0.0501,0.0224,0.0562,0.0871,0.105,0.115,0.141,0.331]},
{"k":"l","s":"d","W":2005,"x":[-1,-0.84,-0.6,-0.35,-0.1,0.1,0.36,0.55,0.76,0.9,1],"y":[0.229,0.0501,0.0417,0.0355,0.0155,0.0282,0.0871,0.105,0.115,0.141,0.331]},
{"k":"p","s":"bs","W":2005,"x":[-0.95,-0.85,-0.74,-0.64,-0.53,-0.44,-0.34,-0.24,-0.14,-0.04,0.06,0.16,0.26,0.37,0.47,0.57,0.67,0.77,0.87,0.97],"y":[0.126,0.0759,0.0398,0.0708,0.105,0.0977,0.115,0.0759,0.0724,0.0468,0.0468,0.055,0.0501,0.0912,0.105,0.105,0.126,0.141,0.204,0.17]},
{"k":"l","s":"s","W":2025,"x":[-1,-0.82,-0.6,-0.3,-0.02,0.32,0.66,0.89,1],"y":[0.257,0.0708,0.0794,0.0562,0.0288,0.0759,0.11,0.11,0.355]},
{"k":"l","s":"d","W":2025,"x":[-1,-0.76,-0.48,-0.14,0.09,0.32,0.66,0.89,1],"y":[0.257,0.0468,0.0417,0.0162,0.0324,0.0759,0.11,0.11,0.355]},
{"k":"p","s":"bs","W":2025,"x":[-0.93,-0.84,-0.73,-0.63,-0.53,-0.43,-0.32,-0.22,-0.13,-0.02,0.08,0.18,0.28,0.38,0.48,0.58,0.68,0.78,0.89,0.98],"y":[0.141,0.0603,0.0708,0.055,0.0676,0.0676,0.115,0.0977,0.0813,0.0646,0.0468,0.0398,0.0759,0.0676,0.0813,0.148,0.0813,0.126,0.148,0.24]},
{"k":"l","s":"s","W":2040,"x":[-1,-0.81,-0.6,-0.41,-0.1,0.1,0.5,0.73,0.9,1],"y":[0.191,0.0603,0.0759,0.0871,0.0501,0.0363,0.0813,0.11,0.0871,0.372]},
{"k":"l","s":"d","W":2040,"x":[-1,-0.81,-0.58,-0.13,0.1,0.39,0.73,0.95,1],"y":[0.191,0.0501,0.0363,0.0162,0.0316,0.0603,0.0871,0.182,0.295]},
{"k":"p","s":"bs","W":2040,"x":[-0.93,-0.82,-0.72,-0.61,-0.51,-0.41,-0.31,-0.21,-0.11,-0.01,0.09,0.19,0.29,0.39,0.49,0.59,0.68,0.78,0.89,0.98],"y":[0.0977,0.0417,0.0646,0.0676,0.0813,0.102,0.0813,0.0759,0.0708,0.0759,0.0525,0.0398,0.0759,0.0525,0.0501,0.11,0.0759,0.0912,0.158,0.257]},
{"k":"l","s":"s","W":2070,"x":[-1,-0.73,-0.45,-0.16,0.06,0.35,0.57,0.74,0.91,1],"y":[0.148,0.0417,0.0603,0.0501,0.0437,0.0603,0.0603,0.0437,0.11,0.257]},
{"k":"l","s":"d","W":2070,"x":[-1,-0.73,-0.45,-0.22,0.06,0.35,0.69,0.91,1],"y":[0.148,0.0324,0.0224,0.0155,0.0251,0.0603,0.0676,0.148,0.229]},
{"k":"p","s":"bs","W":2070,"x":[-0.91,-0.82,-0.72,-0.61,-0.51,-0.41,-0.31,-0.21,-0.11,-0.01,0.09,0.19,0.29,0.39,0.49,0.59,0.7,0.8,0.9,1],"y":[0.0977,0.02,0.0437,0.0398,0.0912,0.0525,0.105,0.0813,0.0813,0.0525,0.0813,0.0912,0.0525,0.0708,0.0603,0.0759,0.0339,0.0977,0.158,0.229]},
{"k":"e","s":"bs","W":2070,"x":[-0.82],"lo":[0.0112],"hi":[0.0355]}
]},
"facet":{"field":"W","type":"ordinal","header":{"title":"cos θ","titleOrient":"bottom","titleAnchor":"end","titleAlign":"right","titleFontSize":28,"titleFont":"Liberation Sans","titleFontWeight":"normal","titleColor":"black","titlePadding":4,"labelOrient":"top","labelAnchor":"start","labelAlign":"left","labelBaseline":"top","labelPadding":-18,"labelFontSize":19,"labelFont":"Liberation Sans","labelColor":"black","labelExpr":"'\u200b\u00a0\u00a0\u00a0\u00a0W=' + datum.value"}},
"columns":8,
"spacing":0,
"spec":{
"width":131.25,"height":114.2,
"layer":[
{"transform":[{"filter":"datum.k=='l' && datum.s=='d'"},{"flatten":["x","y"]}],
 "mark":{"type":"line","interpolate":"monotone","clip":true,"color":"black","strokeWidth":1.2,"strokeDash":[3,3]},
 "encoding":{
  "x":{"field":"x","type":"quantitative","scale":{"domain":[-1.1,1.1],"nice":false,"zero":false},
   "axis":{"values":[-1,0,1],"format":".0f","labelExpr":"replace(datum.label,'\u2212','-')","tickSize":-8,"labelPadding":5,"labelFontSize":19,"labelOverlap":false,"labelBound":false,"labelFlush":false,"title":null,"grid":false,"domain":false,"tickColor":"black","tickWidth":1,"labelColor":"black","labelFont":"Liberation Sans"}},
  "y":{"field":"y","type":"quantitative","scale":{"type":"log","domain":[0.00109,4.7],"nice":false},
   "axis":{"values":[1,0.1,0.01],"labelExpr":"datum.value>0.5?['\u200b','1\u00a0\u00a0\u00a0\u200b']:datum.value>0.05?['-1','10\u00a0\u00a0\u00a0\u00a0\u00a0\u200b']:['-2','10\u00a0\u00a0\u00a0\u00a0\u00a0\u200b']","labelLineHeight":14,"labelOffset":-14,"labelBaseline":"middle","tickSize":-8,"labelPadding":14,"labelFontSize":18,"labelOverlap":false,"labelBound":false,"labelFlush":false,"title":null,"grid":false,"domain":false,"tickColor":"black","labelColor":"black","labelFont":"Liberation Sans"}}
 }},
{"transform":[{"filter":"datum.k=='l' && datum.s=='s'"},{"flatten":["x","y"]}],
 "mark":{"type":"line","interpolate":"monotone","clip":true,"color":"black","strokeWidth":2},
 "encoding":{"x":{"field":"x","type":"quantitative"},"y":{"field":"y","type":"quantitative"}}},
{"transform":[{"filter":"datum.k=='e'"},{"flatten":["x","lo","hi"]}],
 "mark":{"type":"rule","clip":true,"strokeWidth":1.6},
 "encoding":{"x":{"field":"x","type":"quantitative"},"y":{"field":"lo","type":"quantitative"},"y2":{"field":"hi"},
  "color":{"field":"s","type":"nominal","scale":{"domain":["r","o","c","b","bs","g","rc"],"range":["#ff0000","#ff8c00","#00e5ee","#0000ff","#0000ff","#33a01c","#ff0000"]},"legend":null}}},
{"transform":[{"filter":"datum.k=='p' && (datum.s=='r' || datum.s=='g' || datum.s=='bs')"},{"flatten":["x","y"]}],
 "mark":{"type":"tick","orient":"vertical","size":16,"thickness":1.6,"clip":true},
 "encoding":{"x":{"field":"x","type":"quantitative"},"y":{"field":"y","type":"quantitative"},
  "color":{"field":"s","type":"nominal","scale":{"domain":["r","o","c","b","bs","g","rc"],"range":["#ff0000","#ff8c00","#00e5ee","#0000ff","#0000ff","#33a01c","#ff0000"]},"legend":null}}},
{"transform":[{"filter":"datum.k=='p' && (datum.s=='r' || datum.s=='g' || datum.s=='bs' || datum.s=='rc')"},{"flatten":["x","y"]}],
 "mark":{"type":"point","filled":false,"fill":"white","fillOpacity":1,"strokeWidth":1.6,"size":78,"opacity":1,"clip":true},
 "encoding":{"x":{"field":"x","type":"quantitative"},"y":{"field":"y","type":"quantitative"},
  "color":{"field":"s","type":"nominal","scale":{"domain":["r","o","c","b","bs","g","rc"],"range":["#ff0000","#ff8c00","#00e5ee","#0000ff","#0000ff","#33a01c","#ff0000"]},"legend":null},
  "shape":{"field":"s","type":"nominal","scale":{"domain":["r","o","c","b","bs","g","rc"],"range":["square","circle","circle","circle","square","circle","circle"]},"legend":null}}},
{"transform":[{"filter":"datum.k=='p' && (datum.s=='o' || datum.s=='c' || datum.s=='b')"},{"flatten":["x","y"]}],
 "mark":{"type":"point","filled":false,"strokeWidth":1.6,"size":72,"opacity":1,"clip":true},
 "encoding":{"x":{"field":"x","type":"quantitative"},"y":{"field":"y","type":"quantitative"},
  "color":{"field":"s","type":"nominal","scale":{"domain":["r","o","c","b","bs","g","rc"],"range":["#ff0000","#ff8c00","#00e5ee","#0000ff","#0000ff","#33a01c","#ff0000"]},"legend":null},
  "shape":{"field":"s","type":"nominal","scale":{"domain":["r","o","c","b","bs","g","rc"],"range":["square","circle","circle","circle","square","circle","circle"]},"legend":null}}}
]},
"config":{"font":"Liberation Sans","view":{"stroke":"black","strokeWidth":2}}
}
